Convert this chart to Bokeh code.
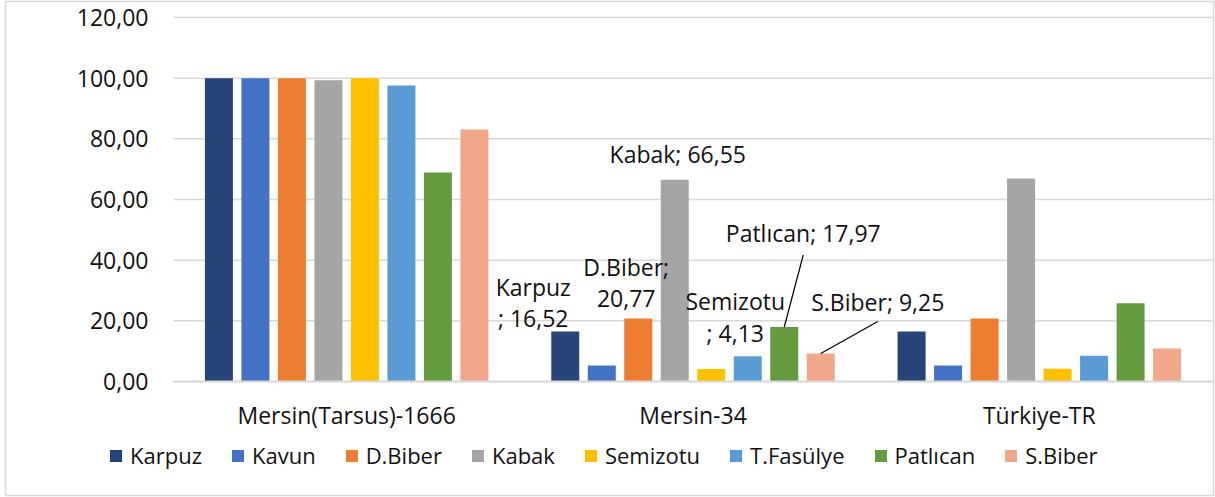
from bokeh.plotting import figure
from bokeh.models import (ColumnDataSource, Range1d, FixedTicker,
                          CustomJSTickFormatter, Legend, LegendItem)
from bokeh.core.properties import value
from bokeh.embed import file_html
from bokeh.resources import INLINE

# ---------------- data ----------------
groups = ["Mersin(Tarsus)-1666", "Mersin-34", "Türkiye-TR"]
series = ["Karpuz", "Kavun", "D.Biber", "Kabak", "Semizotu", "T.Fasülye", "Patlıcan", "S.Biber"]
karpuz = [100.00, 16.52, 16.50]
kavun = [100.00, 5.30, 5.30]
dbiber = [100.00, 20.77, 20.80]
kabak = [99.30, 66.55, 66.90]
semizotu = [100.00, 4.13, 4.20]
tfasulye = [97.60, 8.30, 8.50]
patlican = [68.90, 17.97, 25.80]
sbiber = [83.10, 9.25, 10.90]
y_ticks = [0, 20, 40, 60, 80, 100, 120]
labelled_group = "Mersin-34"
labelled_series = ["Karpuz", "D.Biber", "Kabak", "Semizotu", "Patlıcan", "S.Biber"]
label_texts = {"Karpuz": "Karpuz\n; {}", "D.Biber": "D.Biber;\n{}", "Kabak": "Kabak; {}",
               "Semizotu": "Semizotu\n; {}", "Patlıcan": "Patlıcan; {}", "S.Biber": "S.Biber; {}"}

values = [karpuz, kavun, dbiber, kabak, semizotu, tfasulye, patlican, sbiber]
colors = ["#264478", "#4472C4", "#ED7D31", "#A5A5A5", "#FFC000", "#5B9BD5", "#659B3F", "#F1A78A"]

# ---------------- layout (pixel geometry) ----------------
W, H = 1215, 497
FL, FR, FT, FB = 5, 1213, 1, 495          # outer chart box
PL, PR, P0, P120 = 173, 1212, 381, 17      # plot area: left/right, y of 0 and 120
px_x = (PR - PL) / len(groups)
px_y = (P0 - P120) / 120.0
step = 36.5 / px_x
bar_w = 28 / px_x
FONT = "Open Sans"
TXT = "#111111"
GRID = "#d9d9d9"

p = figure(width=W, height=H,
           x_range=Range1d((FL - PL) / px_x, (FR - PL) / px_x),
           y_range=Range1d((P0 - FB) / px_y, (P0 - FT) / px_y),
           output_backend="svg", toolbar_location=None, tools="")
p.min_border_left = FL
p.min_border_right = W - FR
p.min_border_top = FT
p.min_border_bottom = H - FB
p.outline_line_color = GRID
p.outline_line_width = 1.5
p.xgrid.visible = False
p.ygrid.visible = False

group_pos = [g + 0.5 for g in range(len(groups))]

# horizontal gridlines across the plot area only
p.segment(x0=0, x1=len(groups), y0=y_ticks, y1=y_ticks, line_color=GRID, line_width=1.5)

renderers = []
for i, (s, c) in enumerate(zip(series, colors)):
    xs = [gx + (i - 3.5) * step for gx in group_pos]
    r = p.vbar(x=xs, top=values[i], width=bar_w, fill_color=c, line_color=None)
    renderers.append(r)

# data labels for Mersin-34 (offsets in px from bar top)
label_offsets = {"Karpuz": (-32, -29), "D.Biber": (-12, -36), "Kabak": (3, -26),
                 "Semizotu": (24, -52), "Patlıcan": (19, -94), "S.Biber": (57, -51)}
leader_ends = {"Patlıcan": (19, -72), "S.Biber": (57, -32)}
gi = groups.index(labelled_group)
for s in labelled_series:
    i = series.index(s)
    v = values[i][gi]
    bx = group_pos[gi] + (i - 3.5) * step
    txt = label_texts[s].format(f"{v:.2f}".replace(".", ","))
    dx, dy = label_offsets[s]
    p.text(x=[bx], y=[v], text=[txt], x_offset=dx, y_offset=dy,
           text_align="center", text_baseline="middle",
           text_font=value(FONT), text_font_size="23px", text_color=TXT,
           text_line_height=0.98)
    if s in leader_ends:
        ex, ey = leader_ends[s]
        p.segment(x0=[bx], y0=[v], x1=[bx + ex / px_x], y1=[v - ey / px_y],
                  line_color="#000000", line_width=1.2)

# axes (fixed at the plot area's left edge and at value 0)
p.yaxis.fixed_location = 0
p.yaxis.ticker = FixedTicker(ticks=y_ticks)
p.yaxis.formatter = CustomJSTickFormatter(code="return tick.toFixed(2).replace('.', ',');")
p.yaxis.axis_line_color = None
p.yaxis.major_tick_line_color = None
p.yaxis.minor_tick_line_color = None
p.yaxis.major_label_standoff = 19
p.yaxis.major_label_text_font = FONT
p.yaxis.major_label_text_font_size = "23px"
p.yaxis.major_label_text_color = TXT

p.xaxis.fixed_location = 0
p.xaxis.bounds = (0, len(groups))
p.xaxis.ticker = FixedTicker(ticks=group_pos)
p.xaxis.major_label_overrides = {gx: g for gx, g in zip(group_pos, groups)}
p.xaxis.axis_line_color = GRID
p.xaxis.axis_line_width = 2
p.xaxis.major_tick_line_color = None
p.xaxis.minor_tick_line_color = None
p.xaxis.major_label_standoff = 11
p.xaxis.major_label_text_font = FONT
p.xaxis.major_label_text_font_size = "23px"
p.xaxis.major_label_text_color = TXT

legend = Legend(items=[LegendItem(label=s, renderers=[r]) for s, r in zip(series, renderers)],
                orientation="horizontal", location=(108 - FL, 25))
legend.glyph_width = 15
legend.glyph_height = 15
legend.label_standoff = 7
legend.spacing = 28
legend.padding = 0
legend.margin = 0
legend.border_line_color = None
legend.background_fill_alpha = 0
legend.label_text_font = FONT
legend.label_text_font_size = "22px"
legend.label_text_color = TXT
p.add_layout(legend, "center")

open("out.html", "w").write(file_html(p, INLINE))
